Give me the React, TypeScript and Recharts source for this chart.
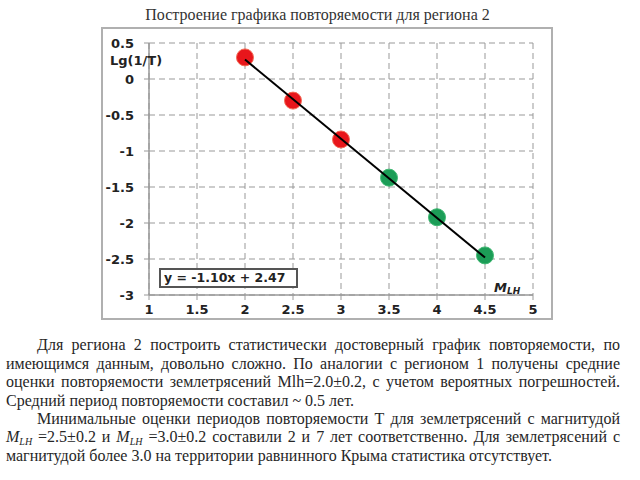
import { ScatterChart, Scatter, XAxis, YAxis, CartesianGrid } from 'recharts'

const redM = [2, 2.5, 3]
const redLg = [0.3, -0.3, -0.84]
const greenM = [3.5, 4, 4.5]
const greenLg = [-1.37, -1.92, -2.45]
const fitM = [2, 4.5]
const fitLg = [0.27, -2.48]
const xTicks = [1, 1.5, 2, 2.5, 3, 3.5, 4, 4.5, 5]
const yTicks = [0.5, 0, -0.5, -1, -1.5, -2, -2.5, -3]

const title = 'Построение графика повторяемости для региона 2'
const equation = 'y = -1.10x + 2.47'

const toPoints = (xs: number[], ys: number[]) => xs.map((x, i) => ({ x, y: ys[i] }))

const chartFont = '"DejaVu Sans", Verdana, sans-serif'
const serif = '"Liberation Serif", "Times New Roman", serif'
const tickStyle = { fill: '#222', fontSize: 13, fontWeight: 'bold' as const, fontFamily: chartFont }

function Dot(props: { cx?: number; cy?: number; fill?: string; halo?: string }) {
  const { cx = 0, cy = 0, fill, halo } = props
  return <circle cx={cx} cy={cy} r={8.5} fill={fill} stroke={halo} strokeWidth={1} />
}

// every line justified to the width it has in the slide
const lineStyle = {
  position: 'absolute' as const,
  left: 6,
  width: 614,
  height: 18.4,
  lineHeight: '18.4px',
  fontFamily: serif,
  fontSize: 16,
  color: '#262626',
  whiteSpace: 'nowrap' as const,
  textAlign: 'justify' as const,
  textAlignLast: 'justify' as const,
}

const Mlh = () => (
  <i>M<sub style={{ fontSize: 10, verticalAlign: '-3px', lineHeight: 0 }}>LH</sub></i>
)

export default function App() {
  const top0 = 336.4
  const lh = 18.4
  return (
    <div style={{ position: 'absolute', left: 0, top: 0, width: 640, height: 480, background: '#fff', overflow: 'hidden' }}>
      <div style={{ position: 'absolute', left: 0, top: 6, width: 635, textAlign: 'center', fontFamily: serif, fontSize: 16, lineHeight: '18.4px', color: '#333' }}>
        {title}
      </div>

      {/* chart frame */}
      <div style={{ position: 'absolute', left: 101, top: 27, width: 452, height: 293, border: '2px solid #b0b0b0', boxSizing: 'border-box' }}>
        <ScatterChart width={448} height={289} margin={{ top: 14, right: 18, bottom: 0, left: 0 }}>
          <CartesianGrid stroke="#999" strokeDasharray="6 4" />
          <XAxis type="number" dataKey="x" domain={[1, 5]} ticks={xTicks} interval={0} height={23}
            axisLine={{ stroke: '#999', strokeWidth: 1.5 }} tickLine={{ stroke: '#999' }} tickSize={5} tickMargin={5}
            tick={tickStyle} />
          <YAxis type="number" dataKey="y" domain={[-3, 0.5]} ticks={yTicks} interval={0} width={46}
            axisLine={{ stroke: '#999', strokeWidth: 1.5 }} tickLine={{ stroke: '#999' }} tickSize={5} tickMargin={10}
            tick={tickStyle} />
          <Scatter data={toPoints(redM, redLg)} isAnimationActive={false}
            shape={(p: any) => <Dot {...p} fill="#e8161b" halo="#f36a55" />} />
          <Scatter data={toPoints(greenM, greenLg)} isAnimationActive={false}
            shape={(p: any) => <Dot {...p} fill="#1c9d57" halo="#3fb872" />} />
          <Scatter data={toPoints(fitM, fitLg)} isAnimationActive={false}
            line={{ stroke: '#000', strokeWidth: 2 }} shape={() => <g />} />
        </ScatterChart>
      </div>

      <div style={{ position: 'absolute', left: 110, top: 54, fontFamily: chartFont, fontWeight: 'bold', fontSize: 13, lineHeight: '13px', color: '#222' }}>
        Lg(1/T)
      </div>
      <div style={{ position: 'absolute', left: 159, top: 268, width: 139, height: 20, boxSizing: 'border-box', border: '2px solid #555', background: '#fff',
        fontFamily: chartFont, fontWeight: 'bold', fontSize: 12.5, lineHeight: '16px', color: '#222', paddingLeft: 3 }}>
        {equation}
      </div>
      <div style={{ position: 'absolute', left: 494, top: 281, fontFamily: chartFont, fontWeight: 'bold', fontSize: 13, lineHeight: '13px', color: '#222' }}>
        <i>M<span style={{ fontSize: 9, position: 'relative', top: 2 }}>LH</span></i>
      </div>

      {/* text under the chart */}
      <div style={{ ...lineStyle, top: top0, left: 37, width: 583 }}>
        Для региона 2 построить статистически достоверный график повторяемости, по
      </div>
      <div style={{ ...lineStyle, top: top0 + lh }}>
        имеющимся данным, довольно сложно. По аналогии с регионом 1 получены средние
      </div>
      <div style={{ ...lineStyle, top: top0 + lh * 2 }}>
        оценки повторяемости землетрясений Mlh=2.0±0.2, с учетом вероятных погрешностей.
      </div>
      <div style={{ ...lineStyle, top: top0 + lh * 3, width: 346 }}>
        Средний период повторяемости составил ~ 0.5 лет.
      </div>
      <div style={{ ...lineStyle, top: top0 + lh * 4, left: 37, width: 583 }}>
        Минимальные оценки периодов повторяемости Т для землетрясений с магнитудой
      </div>
      <div style={{ ...lineStyle, top: top0 + lh * 5 }}>
        <Mlh /> =2.5±0.2 и <Mlh /> =3.0±0.2 составили 2 и 7 лет соответственно. Для землетрясений с
      </div>
      <div style={{ ...lineStyle, top: top0 + lh * 6, width: 542 }}>
        магнитудой более 3.0 на территории равнинного Крыма статистика отсутствует.
      </div>
    </div>
  )
}
